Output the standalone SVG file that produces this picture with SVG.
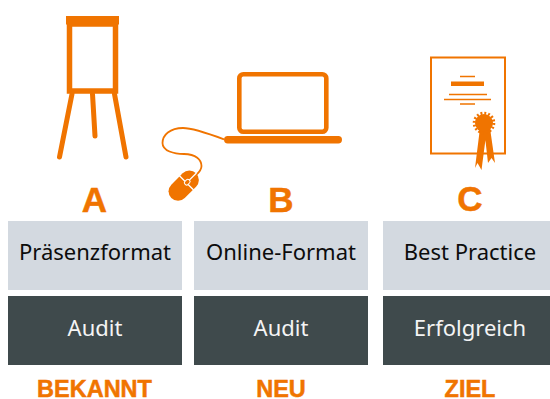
<svg xmlns="http://www.w3.org/2000/svg" width="550" height="399" viewBox="0 0 550 399">
<style>
.l{fill:#d3d9e0}.d{fill:#3f4a4c}
.t{font-family:"Noto Sans","Liberation Sans",sans-serif;font-size:22px;text-anchor:middle}
.k{fill:#0c0c0c}.w{fill:#f4f4f4}
.o{fill:#f07400}.s{fill:none;stroke:#f07400}
.h{font-family:"Liberation Sans",sans-serif;font-weight:700;text-anchor:middle;fill:#f07400;stroke:#f07400;stroke-width:.5px}
.big{font-size:35px}.sm{font-size:23.500px}
</style>
<g id="icon-flipchart">
<rect class="o" x="66" y="16" width="53" height="8.500"/>
<rect class="s" x="69.500" y="24" width="46" height="67" stroke-width="5.500"/>
<path class="s" stroke-width="5" stroke-linecap="round" d="M72 94L59.500 157M92.500 94L95 136M114.500 94L126 157"/>
</g>
<g id="icon-laptop">
<rect class="s" x="239.300" y="74.300" width="87" height="57.500" rx="4" stroke-width="4.600"/>
<rect class="o" x="224" y="136" width="118" height="7.500" rx="3.700"/>
<path class="s" stroke-width="1.800" d="M224 139.300C207 133 192 128 183 128C170 128 162.500 135 162.500 143C162.500 151 174 154 184 154C196 154 201.500 160 201.500 166C201.500 171 197 174 195 176"/>
<g transform="translate(183.700 185.700) rotate(-45)">
<rect class="o" x="-17.500" y="-9.500" width="35" height="19" rx="9.500"/>
<path d="M4 -10V10M4 0H18" stroke="#fff" stroke-width="1.300" fill="none"/>
<rect x="2" y="-2.200" width="6" height="4.400" rx="2" fill="#f07400" stroke="#fff" stroke-width="1"/>
</g>
</g>
<g id="icon-certificate">
<rect class="s" x="431" y="57.500" width="74" height="96" stroke-width="2"/>
<rect class="o" x="451" y="81.500" width="33" height="4.500"/>
<path class="s" stroke-width="1.500" d="M460 76.500H475M449 94.500H487M444 99.500H491M460 104H475"/>
<path class="o" d="M480 128L475 168L477.500 163L481.500 170L487 128ZM484 128L488 163L491.500 158L495 163L490 128Z"/>
<circle class="o" cx="484" cy="123" r="9"/>
<circle class="s" cx="484" cy="123" r="9.800" stroke-width="3" stroke-dasharray="1.900 1.950"/>
</g>
<g id="col-a">
<text class="h big" x="94.500" y="212">A</text>
<rect class="l" x="8" y="221" width="174" height="69"/>
<text class="t k" x="95" y="260">Präsenzformat</text>
<rect class="d" x="8" y="296" width="174" height="69"/>
<text class="t w" x="95" y="336">Audit</text>
<text class="h sm" x="94.500" y="397">BEKANNT</text>
</g>
<g id="col-b">
<text class="h big" x="281" y="212">B</text>
<rect class="l" x="194" y="221" width="174" height="69"/>
<text class="t k" x="281" y="260">Online-Format</text>
<rect class="d" x="194" y="296" width="174" height="69"/>
<text class="t w" x="281" y="336">Audit</text>
<text class="h sm" x="281" y="397">NEU</text>
</g>
<g id="col-c">
<text class="h big" x="470" y="211">C</text>
<rect class="l" x="383" y="221" width="167" height="69"/>
<text class="t k" x="470" y="260">Best Practice</text>
<rect class="d" x="383" y="296" width="167" height="69"/>
<text class="t w" x="470" y="336">Erfolgreich</text>
<text class="h sm" x="470" y="397">ZIEL</text>
</g>
</svg>
